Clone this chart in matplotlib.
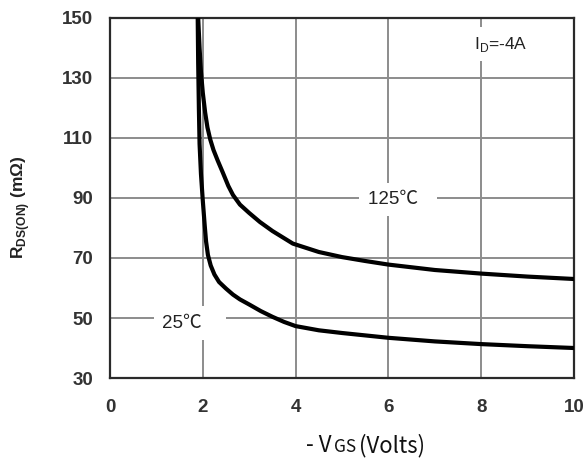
import matplotlib
matplotlib.use("Agg")
import matplotlib.pyplot as plt
from matplotlib.offsetbox import TextArea, HPacker, AnchoredOffsetbox

plt.rcParams['font.family'] = ['Liberation Sans', 'Noto Sans CJK SC', 'DejaVu Sans']
plt.rcParams['mathtext.fontset'] = 'custom'
plt.rcParams['mathtext.rm'] = 'Liberation Sans'
plt.rcParams['mathtext.bf'] = 'Liberation Sans:bold'

# on-resistance vs gate voltage, ID = -4A
vgs_125 = [1.90, 1.93, 1.96, 2.0, 2.05, 2.1, 2.16, 2.23, 2.32, 2.43, 2.55, 2.65, 2.8, 3.0,
           3.23, 3.5, 3.94, 4.5, 5.0, 5.5, 6.0, 7.0, 8.0, 9.0, 10.0]
rds_125 = [150, 140, 132, 125, 118.5, 113.5, 109.5, 106, 102.5, 98.5, 94, 91, 87.8, 85,
           82, 79, 74.8, 72, 70.3, 69, 67.8, 66, 64.8, 63.8, 63]

vgs_25 = [1.89, 1.9, 1.915, 1.93, 1.96, 2.0, 2.04, 2.07, 2.11, 2.17, 2.25, 2.35, 2.5, 2.65, 2.8,
          3.0, 3.25, 3.5, 3.75, 4.0, 4.5, 5.0, 6.0, 7.0, 8.0, 9.0, 10.0]
rds_25 = [150, 135, 120, 108, 98, 89, 81, 75.5, 71, 67.5, 64.5, 62, 59.8, 57.8, 56.2,
          54.5, 52.3, 50.4, 48.7, 47.3, 45.9, 45, 43.4, 42.2, 41.3, 40.6, 40]

xticks = [0, 2, 4, 6, 8, 10]
yticks = [30, 50, 70, 90, 110, 130, 150]

fig = plt.figure(figsize=(5.87, 4.62), dpi=100)
ax = fig.add_axes([0.1874, 0.1818, 0.7906, 0.7793])

ax.plot(vgs_125, rds_125, color='black', lw=3.0, solid_capstyle='butt', solid_joinstyle='round', zorder=3)
ax.plot(vgs_25, rds_25, color='black', lw=3.0, solid_capstyle='butt', solid_joinstyle='round', zorder=3)

ax.set_xlim(0, 10)
ax.set_ylim(30, 150)
ax.set_xticks(xticks)
ax.set_yticks(yticks)
ax.grid(True, color='#8c8c8c', lw=1.4)
ax.set_axisbelow(True)
for s in ax.spines.values():
    s.set_color('#2a2a2a')
    s.set_linewidth(1.6)
ax.tick_params(length=0, labelsize=13.5, colors='#333333')
ax.tick_params(axis='y', pad=12)
ax.tick_params(axis='x', pad=15)
for lab in ax.get_xticklabels() + ax.get_yticklabels():
    lab.set_fontweight('bold')

# curve labels sit on white boxes that cut the grid
ax.text(5.55, 89.5, '125℃  ', ha='left', va='center', fontsize=13.5, color='#222222',
        bbox=dict(facecolor='white', edgecolor='none', boxstyle='square,pad=0.45'), zorder=2)
ax.text(1.13, 48.3, '25℃   ', ha='left', va='center', fontsize=13.5, color='#222222',
        bbox=dict(facecolor='white', edgecolor='none', boxstyle='square,pad=0.45'), zorder=2)
ax.text(7.85, 141.3, r'I$_\mathrm{D}$=-4A', ha='left', va='center', fontsize=12.5,
        color='#222222', bbox=dict(facecolor='white', edgecolor='none', boxstyle='square,pad=0.45'), zorder=2)

ax.set_ylabel(r'$\mathbf{R}_{\mathbf{DS(ON)}}$ $\mathbf{(m\Omega)}$', fontsize=12.5, color='#222222')
ax.yaxis.set_label_coords(-0.168, 0.475)

# x label: "-V" large, "GS" smaller, then "(Volts)"
cjk = dict(family='Noto Sans CJK SC', color='#111111')
parts = [TextArea('- V', textprops=dict(fontsize=16, **cjk)),
         TextArea('GS', textprops=dict(fontsize=12.5, **cjk)),
         TextArea('(Volts)', textprops=dict(fontsize=16, **cjk))]
xlab = AnchoredOffsetbox(loc='center', child=HPacker(children=parts, align='baseline', pad=0, sep=2),
                         bbox_to_anchor=(0.623, 0.036), bbox_transform=fig.transFigure,
                         frameon=False, pad=0, borderpad=0)
fig.add_artist(xlab)

fig.savefig('out.png', dpi=100)
